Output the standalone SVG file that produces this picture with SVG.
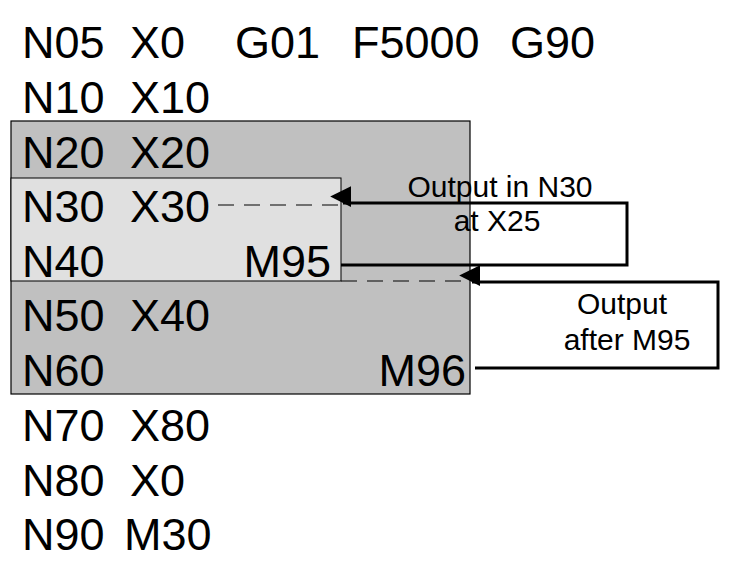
<svg xmlns="http://www.w3.org/2000/svg" width="740" height="568" viewBox="0 0 740 568">
<style>
.t{font-family:"Liberation Sans",Arial,sans-serif;font-size:45px;fill:#000}
.l{font-family:"Liberation Sans",Arial,sans-serif;font-size:30px;fill:#000;text-anchor:middle}
.c{fill:none;stroke:#000;stroke-width:3}
.d{fill:none;stroke:#000;stroke-width:1;stroke-dasharray:16,10}
</style>
<defs><marker id="a" viewBox="0 0 10 10" refX="10" refY="5" markerWidth="8" markerHeight="8" markerUnits="userSpaceOnUse" orient="auto" overflow="visible"><path d="M0,0L10,5L0,10Z" transform="scale(2.6)" fill="#000"/></marker></defs>
<rect width="740" height="568" fill="#fff"/>
<g id="outer"><rect x="11" y="121" width="459" height="273" fill="#c0c0c0" stroke="#000" stroke-width="1.2"/></g>
<g id="inner"><rect x="11" y="178" width="330" height="103" fill="#e0e0e0" stroke="#000" stroke-width="1"/></g>
<g id="code">
<text class="t" x="22" y="58">N05</text><text class="t" x="130" y="58">X0</text><text class="t" x="235" y="58">G01</text><text class="t" x="352" y="58">F5000</text><text class="t" x="510" y="58">G90</text>
<text class="t" x="22" y="113">N10</text><text class="t" x="130" y="113">X10</text>
<text class="t" x="22" y="168">N20</text><text class="t" x="130" y="168">X20</text>
<text class="t" x="22" y="222">N30</text><text class="t" x="130" y="222">X30</text>
<text class="t" x="22" y="277">N40</text><text class="t" x="331" y="277" text-anchor="end">M95</text>
<text class="t" x="22" y="331">N50</text><text class="t" x="130" y="331">X40</text>
<text class="t" x="22" y="386">N60</text><text class="t" x="466" y="386" text-anchor="end">M96</text>
<text class="t" x="22" y="441">N70</text><text class="t" x="130" y="441">X80</text>
<text class="t" x="22" y="496">N80</text><text class="t" x="130" y="496">X0</text>
<text class="t" x="22" y="550">N90</text><text class="t" x="124" y="550">M30</text>
</g>
<g id="connectors">
<line class="d" x1="218" y1="205" x2="341" y2="205"/>
<line class="d" x1="341" y1="281" x2="470" y2="281"/>
<polyline class="c" points="341,265 627,265 627,203 343,203" marker-end="url(#a)"/>
<polyline class="c" points="475,368 718,368 718,282 472,282" marker-end="url(#a)"/>
</g>
<g id="labels">
<text class="l" x="500" y="197">Output in N30</text>
<text class="l" x="497" y="231">at X25</text>
<text class="l" x="622" y="314">Output</text>
<text class="l" x="627" y="350">after M95</text>
</g>
</svg>
